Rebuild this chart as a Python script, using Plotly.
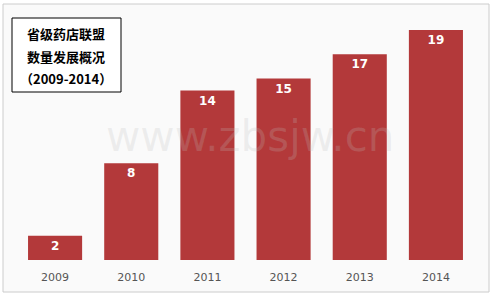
import plotly.graph_objects as go

years = ["2009", "2010", "2011", "2012", "2013", "2014"]
counts = [2, 8, 14, 15, 17, 19]
title_lines = ["省级药店联盟", "数量发展概况", "（2009-2014）"]

W, H = 493, 298
ml, mr, mt, mb = 17, 19, 18, 38

def px_x(x):
    return (x - ml) / (W - ml - mr)

def px_y(y):
    return 1 - (y - mt) / (H - mt - mb)

fig = go.Figure()
fig.add_trace(go.Bar(
    x=years, y=counts,
    marker=dict(color="#b3393a", line=dict(width=0)),
    text=[str(v) for v in counts],
    textposition="inside",
    insidetextanchor="end",
    textfont=dict(color="white", size=12, family="DejaVu Sans"),
    texttemplate="<b>%{text}</b>",
    width=0.71,
))

annotations = [
    dict(xref="paper", yref="paper", x=px_x(250), y=px_y(136),
         text="www.zbsjw.cn", showarrow=False,
         font=dict(size=42, color="rgba(190,190,190,0.22)", family="DejaVu Sans")),
]
for t, yy in zip(title_lines, [33, 56, 78]):
    annotations.append(dict(
        xref="paper", yref="paper", x=px_x(66), y=px_y(yy),
        xanchor="center", yanchor="middle", text="<b>%s</b>" % t,
        showarrow=False, font=dict(size=13, color="black", family="Noto Sans CJK SC")))

fig.update_layout(
    width=W, height=H,
    margin=dict(l=ml, r=mr, t=mt, b=mb),
    paper_bgcolor="white",
    plot_bgcolor="rgba(0,0,0,0)",
    showlegend=False,
    xaxis=dict(showgrid=False, showline=False, zeroline=False,
               ticks="outside", ticklen=7, tickcolor="rgba(0,0,0,0)",
               tickfont=dict(color="#555555", size=11, family="DejaVu Sans")),
    yaxis=dict(range=[0, 20], visible=False),
    shapes=[
        dict(type="rect", xref="paper", yref="paper",
             x0=px_x(3), x1=px_x(489), y0=px_y(292), y1=px_y(4),
             line=dict(color="#cccccc", width=1), fillcolor="#fafafa", layer="below"),
        dict(type="rect", xref="paper", yref="paper",
             x0=px_x(12), x1=px_x(121), y0=px_y(92), y1=px_y(18),
             line=dict(color="black", width=1), fillcolor="white", layer="above"),
    ],
    annotations=annotations,
)

fig.write_html("out.html")
